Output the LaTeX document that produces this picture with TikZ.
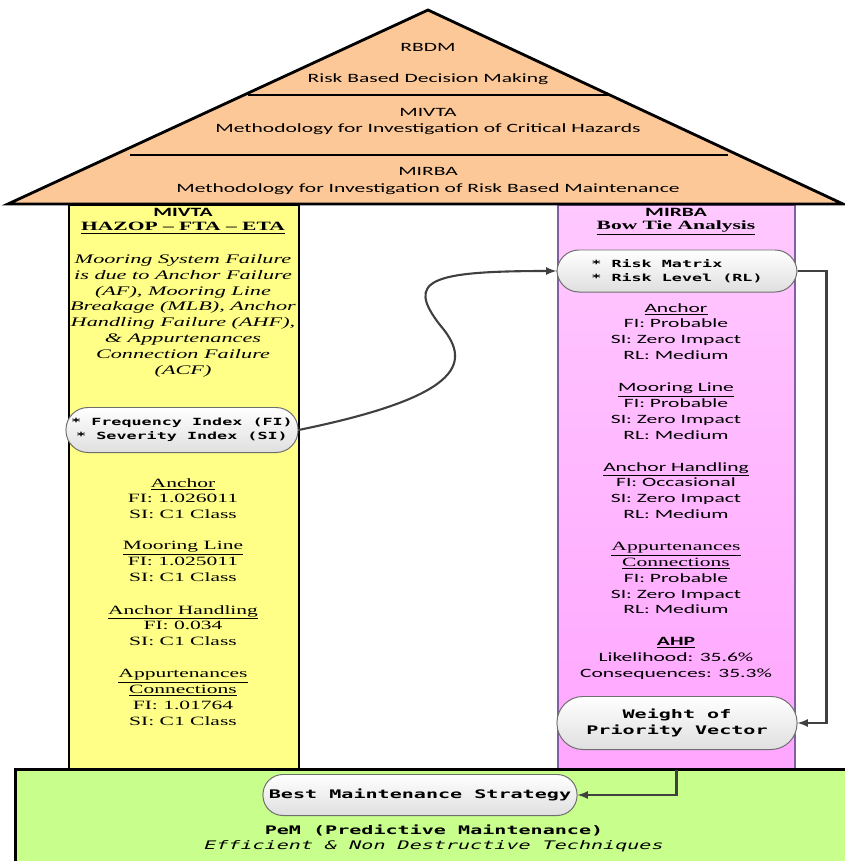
\documentclass[tikz,border=0pt]{standalone}
\usepackage{fontspec}
\usepackage{tikz}
\usetikzlibrary{arrows,shapes}
\setmainfont{Liberation Serif}[FakeStretch=1.7]
\newfontfamily\calfont{Carlito}[FakeStretch=1.7]
\newfontfamily\codefont{DejaVu Sans Mono}[FakeStretch=1.7]

\definecolor{roof}{RGB}{252,200,152}
\definecolor{mivtaY}{RGB}{255,255,136}
\definecolor{pinkTop}{RGB}{255,200,255}
\definecolor{pinkBot}{RGB}{255,166,255}
\definecolor{pinkEdge}{RGB}{128,96,160}
\definecolor{pemGreen}{RGB}{200,255,140}
\definecolor{bubbleline}{RGB}{110,110,110}
\definecolor{linkgray}{RGB}{64,64,64}

\begin{document}
\begin{tikzpicture}[x=0.025cm, y=-0.025cm,
	roofline/.style={draw=black, line width=2pt},
	roofword/.style={font=\calfont\fontsize{9}{11.8}\selectfont, align=center, inner sep=0pt},
	panel/.style={rectangle, inner sep=0pt, anchor=north west},
	colword/.style={font=\fontsize{9}{11.24}\selectfont, align=center, inner sep=0pt, anchor=north},
	bubble/.style={rectangle, draw=bubbleline, line width=0.7pt, top color=white, bottom color=gray!25, inner sep=0pt, align=center},
	bubsmall/.style={bubble, rounded corners=0.55cm, font=\codefont\bfseries\fontsize{7}{9.9}\selectfont},
	bubbig/.style={bubble, font=\codefont\bfseries\fontsize{8.4}{11.3}\selectfont},
	link/.style={draw=linkgray, line width=1.5pt, -latex}]
	\useasboundingbox (0,0) rectangle (844,861);

	% the two pillars
	\node[panel, draw=black, line width=1.4pt, fill=mivtaY, minimum width=5.75cm, minimum height=14.1cm] (mivta) at (68,204) {};
	\node[panel, draw=pinkEdge, line width=1.3pt, top color=pinkTop, bottom color=pinkBot, minimum width=5.925cm, minimum height=14.1cm] (mirba) at (557,204) {};
	\node[roofword, font=\calfont\bfseries\fontsize{9}{11}\selectfont] (mivtahead) at (183,212) {MIVTA};
	\node[roofword, font=\bfseries\fontsize{9}{11}\selectfont] (hazop) at (183,228) {\underline{HAZOP – FTA – ETA}};
	\node[roofword, font=\calfont\bfseries\fontsize{9}{11}\selectfont] (mirbahead) at (676,212) {MIRBA};
	\node[roofword, font=\bfseries\fontsize{9}{11}\selectfont] (bowtie) at (676,228) {\underline{Bow Tie Analysis}};

	% roof
	\filldraw[roofline, fill=roof] (8,204) -- (428,10) -- (843,204) -- cycle;
	\draw[roofline] (248,95) -- (610,95);
	\draw[roofline] (130,155) -- (728,155);
	\node[roofword] (rbdm) at (428,47) {RBDM};
	\node[roofword] (rbdmtxt) at (428,79) {Risk Based Decision Making};
	\node[roofword] (hazards) at (428,121.5) {MIVTA\\Methodology for Investigation of Critical Hazards};
	\node[roofword] (maint) at (428,181) {MIRBA\\Methodology for Investigation of Risk Based Maintenance};

	% base
	\node[panel, draw=black, line width=1.8pt, fill=pemGreen, minimum width=21.3cm, minimum height=2.8cm] (pem) at (14,768) {};

	% left pillar
	\node[colword, font=\itshape\fontsize{9.3}{11.27}\selectfont] (cause) at (183,254) {Mooring System Failure\\is due to Anchor Failure\\(AF), Mooring Line\\Breakage (MLB), Anchor\\Handling Failure (AHF),\\\& Appurtenances\\Connection Failure\\(ACF)};
	\node[bubsmall, minimum width=5.8cm, minimum height=1.125cm] (fisi) at (182,430) {* Frequency Index (FI)\\* Severity Index (SI)};
	\foreach \y/\cmp/\val/\nm in {478/Anchor/1.026011/la, 541/Mooring Line/1.025011/lm, 605/Anchor Handling/0.034/lh}
		\node[colword] (\nm) at (183,\y) {\underline{\cmp}\\FI: \val\\SI: C1 Class};
	\node[colword] (lac) at (183,669) {\underline{Appurtenances}\\\underline{Connections}\\FI: 1.01764\\SI: C1 Class};

	% right pillar
	\node[bubsmall, minimum width=6cm, minimum height=1.05cm, align=left] (risk) at (677,271) {* Risk Matrix\\* Risk Level (RL)};
	\foreach \y/\cmp/\val/\nm in {303/Anchor/Probable/ra, 383/Mooring Line/Probable/rm, 462/Anchor Handling/Occasional/rh}
		\node[colword, font=\calfont\fontsize{9}{11.24}\selectfont] (\nm) at (676,\y) {\underline{\cmp}\\FI: \val\\SI: Zero Impact\\RL: Medium};
	\node[colword, font=\calfont\fontsize{9}{11.24}\selectfont] (rac) at (676,542) {\underline{\rmfamily Appurtenances}\\\underline{\rmfamily Connections}\\FI: Probable\\SI: Zero Impact\\RL: Medium};
	\node[colword, font=\calfont\fontsize{9}{11.24}\selectfont] (ahp) at (676,637) {\underline{\bfseries AHP}\\Likelihood: 35.6\%\\Consequences: 35.3\%};
	\node[bubbig, rounded corners=0.65cm, minimum width=6cm, minimum height=1.325cm] (weight) at (677,723) {Weight of\\Priority Vector};

	% base texts
	\node[bubbig, rounded corners=0.5cm, minimum width=7.85cm, minimum height=1.025cm] (best) at (420,795) {Best Maintenance Strategy};
	\node[roofword, font=\codefont\bfseries\fontsize{8.4}{11.3}\selectfont] (pdm) at (434,830) {PeM (Predictive Maintenance)};
	\node[roofword, font=\codefont\itshape\fontsize{8.4}{11.3}\selectfont] (ndt) at (434,846) {Efficient \& Non Destructive Techniques};

	% links
	\draw[link] (fisi.east) .. controls (470,395) and (470,360) .. (440,325) .. controls (405,280) and (430,271) .. (risk.west);
	\draw[link] (risk.east) -- ++(29,0) |- (weight.east);
	\draw[link] (mirba.south) |- (best.east);
\end{tikzpicture}
\end{document}
